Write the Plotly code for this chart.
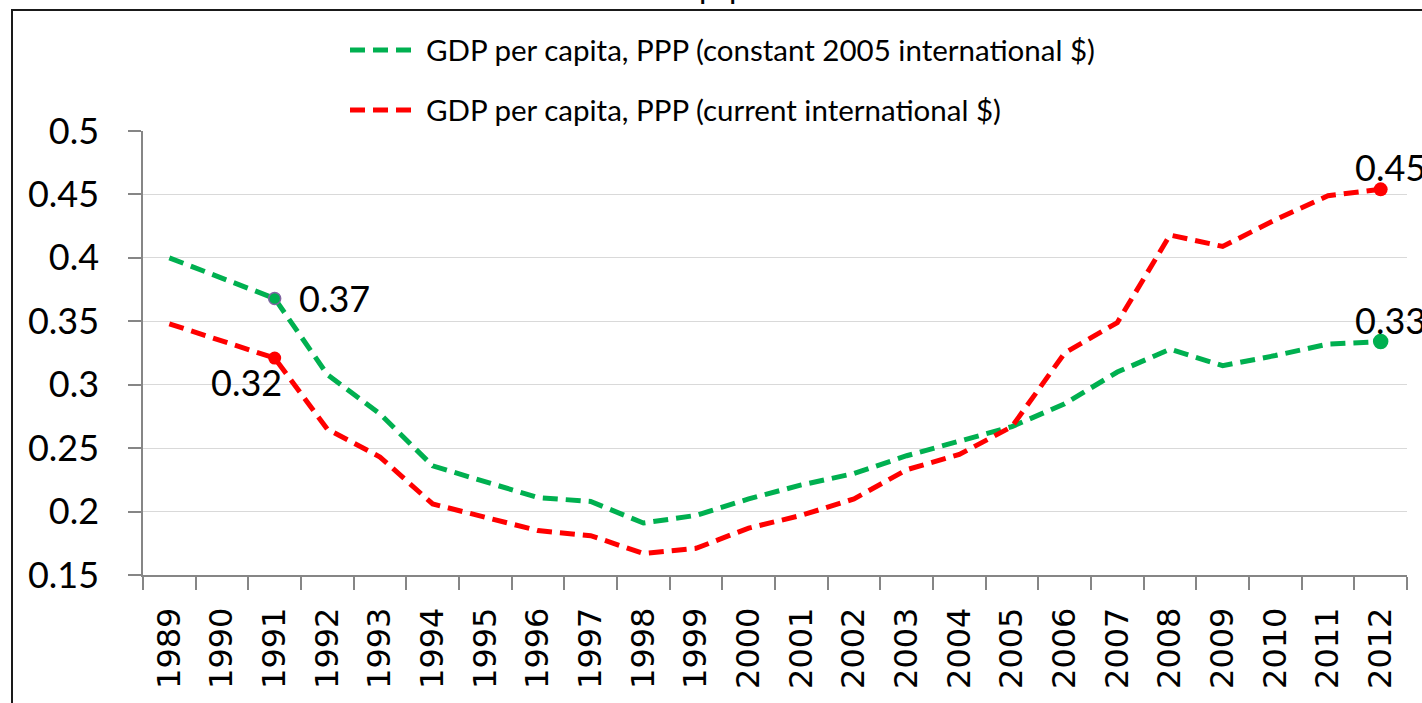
import plotly.graph_objects as go

years = [str(y) for y in range(1989, 2013)]
gdp_const_2005 = [0.400, 0.384, 0.368, 0.308, 0.277, 0.236, 0.224, 0.211, 0.208, 0.191,
                  0.197, 0.210, 0.221, 0.230, 0.244, 0.255, 0.267, 0.285, 0.310, 0.328,
                  0.315, 0.323, 0.332, 0.334]
gdp_current = [0.348, 0.335, 0.321, 0.265, 0.243, 0.206, 0.196, 0.185, 0.181, 0.167,
               0.171, 0.187, 0.197, 0.210, 0.233, 0.245, 0.267, 0.325, 0.349, 0.418,
               0.409, 0.430, 0.449, 0.454]
series_names = ["GDP per capita, PPP (constant 2005 international $)",
                "GDP per capita, PPP (current international $)"]
marked_years = ["1991", "2012"]
y_ticks = [0.15, 0.2, 0.25, 0.3, 0.35, 0.4, 0.45, 0.5]
y_tick_text = ["0.15", "0.2", "0.25", "0.3", "0.35", "0.4", "0.45", "0.5"]

GREEN = "#00B050"
RED = "#FF0000"
PURPLE = "#8064A2"
W, H = 1422, 703
L, R, T, B = 143, 15, 131, 128
PW, PH = W - L - R, H - T - B


def px(x):
    return (x - L) / PW


def py(y):
    return (H - B - y) / PH


dash = "15px,8px"
fig = go.Figure()
fig.add_trace(go.Scatter(x=years, y=gdp_const_2005, mode="lines", name=series_names[0],
                         line=dict(color=GREEN, width=5, dash=dash), showlegend=False))
fig.add_trace(go.Scatter(x=years, y=gdp_current, mode="lines", name=series_names[1],
                         line=dict(color=RED, width=5, dash=dash), showlegend=False))

idx = [years.index(m) for m in marked_years]
fig.add_trace(go.Scatter(x=[years[i] for i in idx], y=[gdp_const_2005[i] for i in idx],
                         mode="markers", showlegend=False,
                         marker=dict(color=GREEN, size=[12, 14], opacity=1,
                                     line=dict(color=[PURPLE, GREEN], width=1.5))))
fig.add_trace(go.Scatter(x=[years[i] for i in idx], y=[gdp_current[i] for i in idx],
                         mode="markers", showlegend=False,
                         marker=dict(color=RED, size=[13, 14], opacity=1, line=dict(width=0))))

lab_font = dict(family="Lato", size=36, color="black")
annotations = [
    dict(x=idx[0], y=gdp_const_2005[idx[0]], text=f"{gdp_const_2005[idx[0]]:.2f}",
         xanchor="left", yanchor="middle", xshift=22, yshift=0),
    dict(x=idx[0], y=gdp_current[idx[0]], text=f"{gdp_current[idx[0]]:.2f}",
         xanchor="right", yanchor="middle", xshift=9, yshift=-24),
    dict(x=idx[1], y=gdp_current[idx[1]], text=f"{gdp_current[idx[1]]:.2f}",
         xanchor="left", yanchor="middle", xshift=-28, yshift=22),
    dict(x=idx[1], y=gdp_const_2005[idx[1]], text=f"{gdp_const_2005[idx[1]]:.2f}",
         xanchor="left", yanchor="middle", xshift=-28, yshift=22),
]
for a in annotations:
    a.update(xref="x", yref="y", showarrow=False, font=lab_font)

# custom legend
leg_font = dict(family="Lato", size=29.5, color="black")
shapes = []
for ypix, col, name in [(50, GREEN, series_names[0]), (110, RED, series_names[1])]:
    shapes.append(dict(type="line", xref="paper", yref="paper", x0=px(350), x1=px(414),
                       y0=py(ypix), y1=py(ypix), line=dict(color=col, width=5, dash=dash)))
    annotations.append(dict(xref="paper", yref="paper", x=px(424), y=py(ypix), text=name,
                            xanchor="left", yanchor="middle", showarrow=False, font=leg_font))

# chart border
shapes.append(dict(type="rect", xref="paper", yref="paper", x0=px(12), x1=px(1440),
                   y0=py(720), y1=py(10), line=dict(color="#1a1a1a", width=2),
                   fillcolor="rgba(0,0,0,0)", layer="above"))

# truncated chart title (only descenders visible)
for xp in [697, 727]:
    annotations.append(dict(xref="paper", yref="paper", x=px(xp), y=py(7), text="p",
                            xanchor="left", yanchor="bottom", showarrow=False,
                            font=dict(family="Lato", size=32, color="black")))

fig.update_layout(
    width=W, height=H,
    margin=dict(l=L, r=R, t=T, b=B),
    paper_bgcolor="white", plot_bgcolor="white",
    showlegend=False,
    annotations=annotations,
    shapes=shapes,
    xaxis=dict(type="category", range=[-0.5, len(years) - 0.5], tickson="boundaries",
               ticks="outside", ticklen=13, tickcolor="#868686", tickwidth=1.5,
               showline=True, linecolor="#868686", linewidth=1.5, showgrid=False,
               tickangle=-90, tickfont=dict(family="DejaVu Sans", size=32, color="black"),
               ticklabelstandoff=18),
    yaxis=dict(range=[0.15, 0.5], tickvals=y_ticks, ticktext=y_tick_text,
               ticks="outside", ticklen=13, tickcolor="#868686", tickwidth=1.5,
               showline=True, linecolor="#868686", linewidth=1.5,
               showgrid=True, gridcolor="#D9D9D9", gridwidth=1, zeroline=False,
               tickfont=dict(family="Lato", size=36, color="black"),
               ticklabelstandoff=22),
)

fig.write_html("out.html", config={"displayModeBar": False},
               post_script="document.body.style.margin='0';document.body.style.overflow='hidden';")
